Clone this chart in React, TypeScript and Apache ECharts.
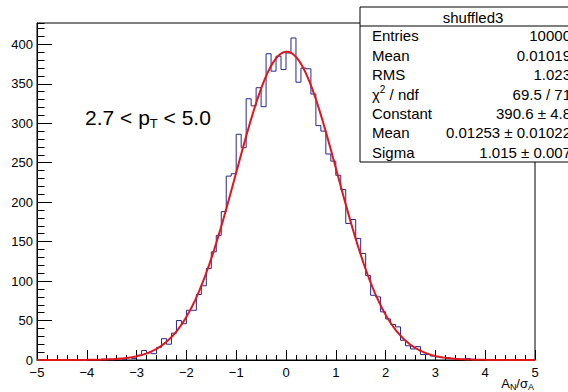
import React, { useEffect, useRef } from "react";
import * as echarts from "echarts";

// ---- data ----
const X_MIN = -5;
const X_MAX = 5;
const BIN_WIDTH = 0.1;
// counts per 0.1-wide bin, lower edges -5.0 ... 4.9
const binCounts = [
  0, 0, 0, 0, 0, 0, 0, 0, 0, 0,
  0, 0, 0, 1, 1, 0, 2, 1, 3, 2,
  6, 12, 9, 8, 16, 27, 20, 34, 50, 46,
  63, 63, 83, 94, 116, 137, 158, 188, 233, 236,
  286, 269, 331, 322, 345, 321, 388, 366, 385, 368,
  389, 408, 352, 370, 369, 337, 297, 290, 261, 252,
  234, 216, 173, 178, 154, 135, 107, 82, 80, 61,
  52, 45, 42, 25, 18, 14, 17, 7, 7, 5,
  4, 3, 3, 2, 1, 1, 2, 1, 0, 0,
  0, 0, 0, 0, 0, 0, 0, 0, 0, 0,
];
// Gaussian fit parameters (from the stats box)
const FIT_CONSTANT = 390.6;
const FIT_MEAN = 0.01253;
const FIT_SIGMA = 1.015;
const Y_MAX = 427;

const statsTitle = "shuffled3";
const statsLabels = ["Entries", "Mean", "RMS", "{a|χ}{sup|2}{a| / ndf}", "Constant", "Mean", "Sigma"];
const statsValues = ["10000", "0.01019", "1.023", "69.5 / 71", "390.6 ± 4.8", "0.01253 ± 0.01022", "1.015 ± 0.007"];

const FONT = "'Liberation Sans', Arial, Helvetica, sans-serif";

export default function App() {
  const ref = useRef<HTMLDivElement>(null);
  useEffect(() => {
    if (!ref.current) return;
    const chart = echarts.init(ref.current, undefined, { renderer: "svg" });

    const histData: number[][] = binCounts.map((v, i) => [+(X_MIN + i * BIN_WIDTH).toFixed(2), v]);
    histData.push([X_MAX, binCounts[binCounts.length - 1]]);

    const fitData: number[][] = [];
    const nFit = 500;
    for (let i = 0; i <= nFit; i++) {
      const x = X_MIN + ((X_MAX - X_MIN) * i) / nFit;
      const d = (x - FIT_MEAN) / FIT_SIGMA;
      fitData.push([x, FIT_CONSTANT * Math.exp(-0.5 * d * d)]);
    }

    const gridLeft = 37, gridTop = 23, gridW = 498, gridH = 337;
    const boxX = 360, boxY = 7, boxW = 226, boxH = 155, titleH = 19;
    const rowH = (boxH - titleH) / statsLabels.length;

    const graphics: any[] = [
      {
        type: "rect", z: 100,
        shape: { x: boxX, y: boxY, width: boxW, height: boxH },
        style: { fill: "#fff", stroke: "#000", lineWidth: 1 },
      },
      {
        type: "line", z: 101,
        shape: { x1: boxX, y1: boxY + titleH, x2: boxX + boxW, y2: boxY + titleH },
        style: { stroke: "#000", lineWidth: 1 },
      },
      {
        type: "text", z: 102, x: 473, y: boxY + titleH / 2 + 0.5,
        style: { text: statsTitle, fontSize: 15, fontFamily: FONT, fill: "#000", align: "center", verticalAlign: "middle" },
      },
    ];
    statsLabels.forEach((lab, i) => {
      const cy = boxY + titleH + rowH * (i + 0.5);
      graphics.push({
        type: "text", z: 102, x: 372, y: cy,
        style: {
          text: lab.includes("{") ? lab : `{a|${lab}}`,
          rich: {
            a: { fontSize: 15, fontFamily: FONT, fill: "#000", lineHeight: 19, verticalAlign: "middle" },
            sup: { fontSize: 10, fontFamily: FONT, fill: "#000", lineHeight: 19, verticalAlign: "top" },
          },
          align: "left", verticalAlign: "middle",
        },
      });
      graphics.push({
        type: "text", z: 102, x: 571, y: cy,
        style: { text: statsValues[i], fontSize: 15, fontFamily: FONT, fill: "#000", align: "right", verticalAlign: "middle" },
      });
    });
    graphics.push({
      type: "text", z: 50, x: 85, y: 117,
      style: {
        text: "{a|2.7 < p}{s|T}{a| < 5.0}",
        rich: {
          a: { fontSize: 21, fontFamily: FONT, fill: "#000", lineHeight: 26, verticalAlign: "middle" },
          s: { fontSize: 13, fontFamily: FONT, fill: "#000", lineHeight: 26, verticalAlign: "bottom" },
        },
        align: "left", verticalAlign: "middle",
      },
    });
    graphics.push({
      type: "text", z: 50, x: 534, y: 383,
      style: {
        text: "{a|A}{s|N}{a|/σ}{s|A}",
        rich: {
          a: { fontSize: 13, fontFamily: FONT, fill: "#000", lineHeight: 16, verticalAlign: "middle" },
          s: { fontSize: 9, fontFamily: FONT, fill: "#000", lineHeight: 16, verticalAlign: "bottom" },
        },
        align: "right", verticalAlign: "middle",
      },
    });

    const axisLabelStyle = { fontSize: 13, fontFamily: FONT, color: "#000" };

    chart.setOption({
      animation: false,
      backgroundColor: "#fff",
      grid: {
        left: gridLeft, top: gridTop, width: gridW, height: gridH,
        show: true, borderColor: "#000", borderWidth: 1, backgroundColor: "transparent",
      },
      xAxis: {
        type: "value", min: X_MIN, max: X_MAX, interval: 1,
        axisLine: { show: true, onZero: false, lineStyle: { color: "#000", width: 1 } },
        axisTick: { show: true, inside: true, length: 10, lineStyle: { color: "#000" } },
        minorTick: { show: true, splitNumber: 5, length: 5, lineStyle: { color: "#000" } },
        splitLine: { show: false },
        axisLabel: {
          ...axisLabelStyle, margin: 6,
          formatter: (v: number) => String(v).replace("-", "\u2212"),
        },
      },
      yAxis: [
        {
          type: "value", min: 0, max: Y_MAX, interval: 50,
          axisLine: { show: true, onZero: false, lineStyle: { color: "#000", width: 1 } },
          axisTick: { show: true, inside: true, length: 15, lineStyle: { color: "#000" } },
          splitLine: { show: false },
          axisLabel: { ...axisLabelStyle, margin: 4, showMaxLabel: false },
        },
        {
          type: "value", min: 0, max: Y_MAX, interval: 10, position: "left",
          axisLine: { show: false, onZero: false },
          axisTick: { show: true, inside: true, length: 7.5, lineStyle: { color: "#000" } },
          splitLine: { show: false },
          axisLabel: { show: false },
        },
      ],
      series: [
        {
          type: "line", name: "shuffled3", data: histData, step: "end",
          symbol: "none", yAxisIndex: 0,
          lineStyle: { color: "#26268f", width: 1 }, z: 3,
        },
        {
          type: "line", name: "fit", data: fitData, smooth: false,
          symbol: "none", yAxisIndex: 0,
          lineStyle: { color: "#e0161c", width: 2 }, z: 4,
        },
      ],
      graphic: graphics,
    });
    return () => chart.dispose();
  }, []);
  return (
    <div
      ref={ref}
      style={{ position: "fixed", left: 0, top: 0, width: 568, height: 392, background: "#fff" }}
    />
  );
}
